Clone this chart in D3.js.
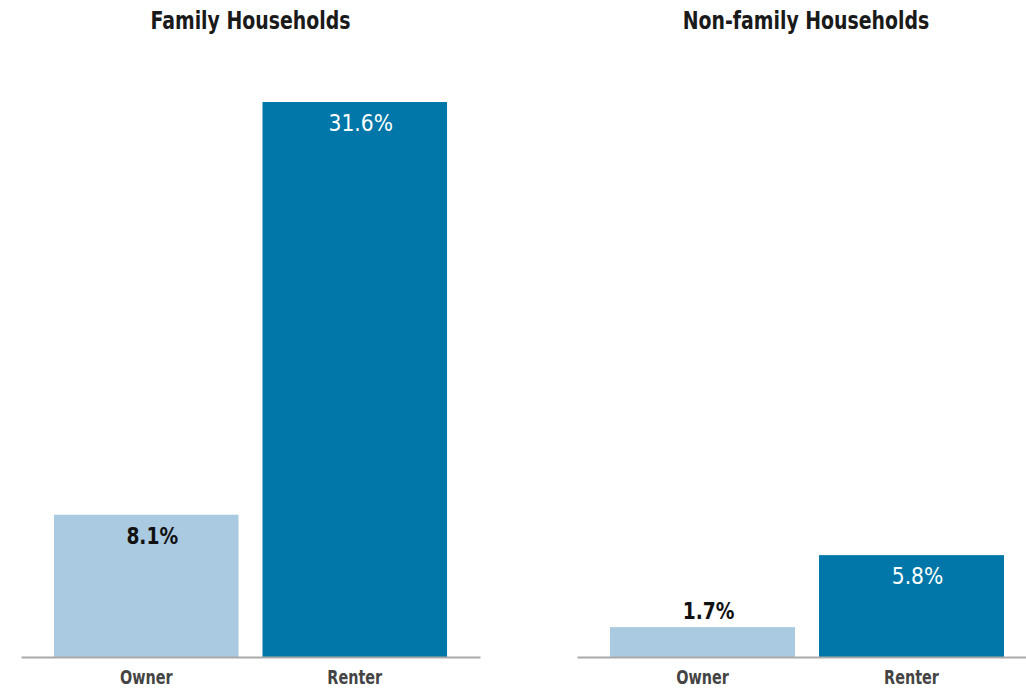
<!DOCTYPE html>
<html>
<head>
<meta charset="utf-8">
<script src="https://cdn.jsdelivr.net/npm/d3@7"></script>
<style>
  html, body { margin: 0; padding: 0; background: #fff; }
  svg { display: block; }
  text { font-family: "DejaVu Sans Condensed", "DejaVu Sans", sans-serif; font-stretch: condensed; }
</style>
</head>
<body>
<svg id="chart" width="1026" height="690"></svg>
<script>
// Share of households by tenure
const panels = ["Family Households", "Non-family Households"];
const tenure = ["Owner", "Renter"];
const familyValues = [8.1, 31.6];
const nonFamilyValues = [1.7, 5.8];
const seriesValues = [familyValues, nonFamilyValues];

const colors = { Owner: "#a9cae0", Renter: "#0077a8" };
const labelColors = { Owner: "#111", Renter: "#fff" };

const svg = d3.select("#chart");
const baseline = 657;

const y = d3.scaleLinear().domain([0, 31.6]).range([baseline, 102]);

const panelRanges = [[21, 480], [577, 1037]];

// Narrow a text run to a fraction of its natural width
function condense(sel, factor) {
  sel.each(function () {
    const len = this.getComputedTextLength();
    d3.select(this)
      .attr("textLength", len * factor)
      .attr("lengthAdjust", "spacingAndGlyphs");
  });
}

panels.forEach((title, i) => {
  const [x0, x1] = panelRanges[i];
  const x = d3.scaleBand().domain(tenure).range([x0, x1])
    .paddingInner(0.115).paddingOuter(0.158);
  const data = tenure.map((t, j) => ({ t, v: seriesValues[i][j] }));
  const g = svg.append("g");

  g.append("text")
    .attr("x", (x0 + x1) / 2 + (i === 0 ? 0 : -1))
    .attr("y", 29)
    .attr("text-anchor", "middle")
    .attr("font-size", 24)
    .attr("font-weight", "bold")
    .attr("fill", "#1a1a1a")
    .text(title)
    .call(condense, 0.875);

  g.selectAll("rect").data(data).join("rect")
    .attr("x", d => x(d.t))
    .attr("y", d => y(d.v))
    .attr("width", x.bandwidth())
    .attr("height", d => baseline - y(d.v))
    .attr("fill", d => colors[d.t]);

  // Axis along the bottom with category labels
  const axis = g.append("g")
    .attr("transform", `translate(0,${baseline})`)
    .call(d3.axisBottom(x).tickSize(0).tickPadding(13));
  axis.select(".domain").attr("stroke", "#aaaaaa").attr("stroke-width", 2);
  axis.selectAll(".tick text")
    .attr("font-size", 20)
    .attr("font-weight", "bold")
    .attr("fill", "#444")
    .style("font-family", '"DejaVu Sans Condensed", "DejaVu Sans", sans-serif')
    .call(condense, 0.8);

  // Value labels: inside the bar when there is room, above it otherwise
  g.selectAll(".val").data(data).join("text")
    .attr("class", "val")
    .attr("x", d => x(d.t) + x.bandwidth() / 2 + 6)
    .attr("y", d => (baseline - y(d.v)) > 50 ? y(d.v) + 29 : y(d.v) - 8)
    .attr("text-anchor", "middle")
    .attr("font-size", 23)
    .attr("font-weight", d => d.t === "Owner" ? "bold" : "normal")
    .attr("fill", d => (baseline - y(d.v)) > 50 ? labelColors[d.t] : "#111")
    .text(d => d.v.toFixed(1) + "%")
    .each(function (d) { d3.select(this).call(condense, d.t === "Owner" ? 0.9 : 0.98); });
});
</script>
</body>
</html>
